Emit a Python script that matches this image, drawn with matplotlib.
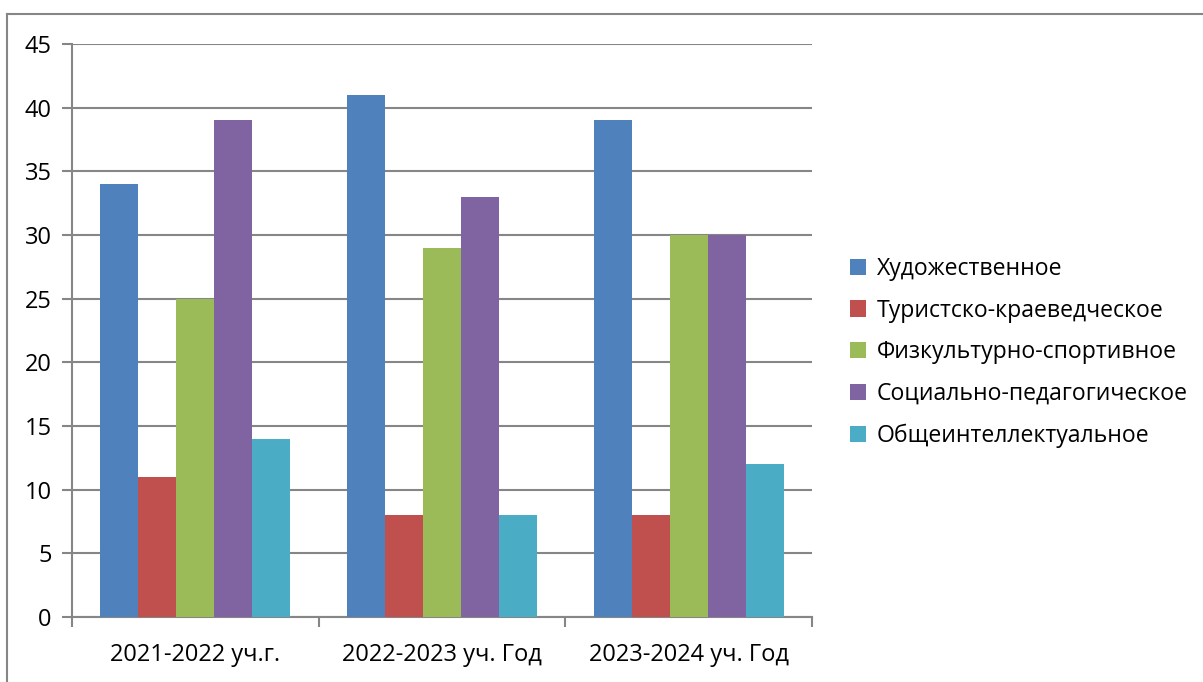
import matplotlib
matplotlib.use("Agg")
import matplotlib.pyplot as plt
from matplotlib.patches import Patch
from matplotlib.lines import Line2D
import numpy as np

categories = ["2021-2022 уч.г.", "2022-2023 уч. Год", "2023-2024 уч. Год"]
series_names = ["Художественное", "Туристско-краеведческое", "Физкультурно-спортивное",
                "Социально-педагогическое", "Общеинтеллектуальное"]
hud = [34, 41, 39]
tur = [11, 8, 8]
fiz = [25, 29, 30]
soc = [39, 33, 30]
obs = [14, 8, 12]
series_values = [hud, tur, fiz, soc, obs]
colors = ["#4F81BD", "#C0504D", "#9BBB59", "#8064A2", "#4BACC6"]
y_ticks = [0, 5, 10, 15, 20, 25, 30, 35, 40, 45]

plt.rcParams['font.family'] = ['Open Sans', 'DejaVu Sans']
FS = 17
LFS = 16.6
W, H = 1203, 682
fig = plt.figure(figsize=(W / 100, H / 100), dpi=100)
ax = fig.add_axes([72 / W, 1 - 617 / H, (812 - 72) / W, (617 - 44) / H])

gray = "#868686"
x = np.arange(len(categories))
bw = 38 / 247
n = len(series_values)
for i, (vals, c, name) in enumerate(zip(series_values, colors, series_names)):
    ax.bar(x + (i - (n - 1) / 2) * bw, vals, width=bw, color=c, label=name, zorder=3)

ax.set_xlim(-0.5, len(categories) - 0.5)
ax.set_ylim(0, 45)
ax.set_yticks(y_ticks)
ax.set_yticklabels([str(t) for t in y_ticks], fontsize=FS, color="black")
ax.yaxis.grid(True, color=gray, linewidth=1.5, zorder=0)
ax.set_axisbelow(True)

ax.set_xticks(np.arange(len(categories) + 1) - 0.5)
ax.set_xticklabels([])
ax.set_xticks(x, minor=True)
ax.set_xticklabels(categories, minor=True, fontsize=FS, color="black")
ax.tick_params(axis='x', which='major', length=7.5, width=1.5, color=gray, direction='out')
ax.tick_params(axis='x', which='minor', length=0, pad=19)
ax.tick_params(axis='y', length=7.5, width=1.5, color=gray, direction='out', pad=7)

for s in ["top", "right"]:
    ax.spines[s].set_visible(False)
for s in ["left", "bottom"]:
    ax.spines[s].set_color(gray)
    ax.spines[s].set_linewidth(1.5)

handles = [Patch(facecolor=c, edgecolor='none') for c in colors]
leg = fig.legend(handles, series_names, loc='center left',
                 bbox_to_anchor=(850 / W, 1 - 352.5 / H), frameon=False,
                 fontsize=LFS, handlelength=0.7, handleheight=0.7,
                 handletextpad=0.45, labelspacing=0.77, borderpad=0, borderaxespad=0)

# outer border (top and left visible)
fig.add_artist(Line2D([7 / W, 7 / W], [0, 1 - 14 / H], transform=fig.transFigure, color=gray, linewidth=1.5))
fig.add_artist(Line2D([7 / W, 1], [1 - 14 / H, 1 - 14 / H], transform=fig.transFigure, color=gray, linewidth=1.5))

fig.savefig("out.png", dpi=100)
